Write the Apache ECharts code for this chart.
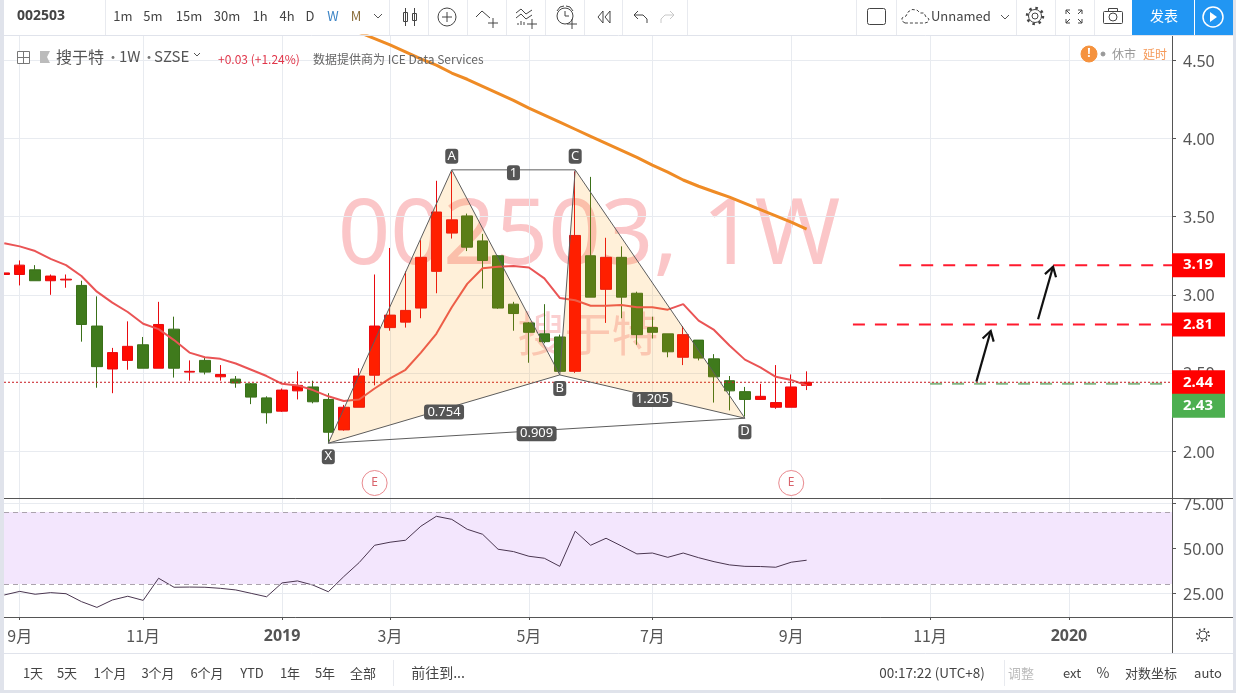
<!DOCTYPE html>
<html>
<head>
<meta charset="utf-8">
<style>
    html, body { margin: 0; padding: 0; background: #fff; }
    #main { width: 1236px; height: 693px; }
</style>
</head>
<body>
<div id="main"></div>
<script src="https://cdn.jsdelivr.net/npm/echarts@6/dist/echarts.min.js"></script>
<script>
// weekly bars, index 0 is the bar cut off by the left edge
const opens = [3.13, 3.13, 3.16, 3.09, 3.095, 3.06, 2.80, 2.525, 2.58, 2.68, 2.53, 2.78, 2.505, 2.58, 2.475, 2.46, 2.43, 2.34, 2.255, 2.385, 2.41, 2.33, 2.135, 2.28, 2.485, 2.79, 2.825, 2.915, 3.15, 3.395, 3.505, 3.345, 3.25, 2.94, 2.82, 2.75, 2.73, 2.51, 3.25, 3.035, 3.24, 3.01, 2.79, 2.75, 2.60, 2.71, 2.59, 2.45, 2.38, 2.33, 2.28, 2.28, 2.42];
const closes = [3.14, 3.19, 3.09, 3.12, 3.10, 2.81, 2.54, 2.63, 2.67, 2.53, 2.81, 2.53, 2.51, 2.505, 2.49, 2.435, 2.345, 2.245, 2.39, 2.42, 2.315, 2.12, 2.28, 2.48, 2.80, 2.87, 2.90, 3.24, 3.53, 3.48, 3.305, 3.22, 2.915, 2.88, 2.76, 2.70, 2.51, 3.38, 2.985, 3.24, 2.985, 2.745, 2.76, 2.635, 2.745, 2.595, 2.475, 2.385, 2.33, 2.35, 2.31, 2.41, 2.44];
const lows = [3.13, 3.06, 3.09, 3.00, 3.045, 2.70, 2.405, 2.37, 2.52, 2.53, 2.53, 2.47, 2.45, 2.49, 2.45, 2.405, 2.30, 2.175, 2.25, 2.33, 2.305, 2.05, 2.13, 2.28, 2.42, 2.77, 2.79, 2.85, 3.01, 3.36, 3.28, 3.04, 2.91, 2.77, 2.565, 2.69, 2.505, 2.50, 2.985, 2.82, 2.85, 2.68, 2.72, 2.60, 2.55, 2.58, 2.31, 2.26, 2.22, 2.33, 2.27, 2.28, 2.39];
const highs = [3.14, 3.22, 3.19, 3.13, 3.13, 3.09, 2.99, 2.66, 2.83, 2.73, 2.955, 2.86, 2.58, 2.60, 2.55, 2.48, 2.435, 2.35, 2.40, 2.51, 2.45, 2.37, 2.295, 2.53, 3.13, 3.30, 3.15, 3.35, 3.73, 3.79, 3.52, 3.39, 3.255, 2.955, 2.825, 2.94, 2.745, 3.79, 3.755, 3.365, 3.31, 3.02, 2.86, 2.75, 2.80, 2.71, 2.62, 2.48, 2.41, 2.43, 2.55, 2.49, 2.51];
const maValues = [3.33, 3.31, 3.28, 3.23, 3.19, 3.12, 3.02, 2.95, 2.89, 2.815, 2.78, 2.71, 2.63, 2.60, 2.59, 2.56, 2.52, 2.48, 2.43, 2.42, 2.39, 2.35, 2.32, 2.33, 2.40, 2.465, 2.52, 2.63, 2.75, 2.92, 3.07, 3.17, 3.18, 3.185, 3.175, 3.105, 2.98, 2.965, 2.93, 2.93, 2.935, 2.92, 2.92, 2.905, 2.94, 2.835, 2.775, 2.675, 2.585, 2.535, 2.475, 2.455, 2.42];
const longMaStart = 23;
const longMaValues = [4.68, 4.64, 4.60, 4.555, 4.51, 4.47, 4.42, 4.38, 4.335, 4.29, 4.245, 4.195, 4.15, 4.105, 4.06, 4.015, 3.97, 3.925, 3.88, 3.83, 3.785, 3.735, 3.695, 3.66, 3.625, 3.585, 3.545, 3.505, 3.465, 3.42];
const rsiValues = [23.9, 25.9, 24.3, 25.2, 24.6, 20.2, 17.0, 21.1, 23.2, 20.9, 33.2, 28.2, 28.3, 28.2, 27.6, 26.7, 24.8, 22.9, 30.6, 31.7, 29.4, 25.7, 34.1, 41.9, 51.5, 53.2, 54.3, 62.1, 67.6, 65.9, 60.4, 57.6, 49.3, 48, 45.4, 44.3, 39.8, 59.3, 51.5, 55.4, 51.1, 46.7, 47.2, 44.8, 47.2, 44.6, 42.4, 40.6, 39.8, 39.7, 39.3, 42.1, 43.2];
const rsiBand = [30, 70];

const timeTicks = [1, 9, 18, 25, 34, 42, 51, 60, 69];
const timeLabels = ['9月', '11月', '2019', '3月', '5月', '7月', '9月', '11月', '2020'];
const priceTicks = [2, 2.5, 3, 3.5, 4, 4.5];
const rsiTicks = [25, 50, 75];

// XABCD pattern
const patternNames = ['X', 'A', 'B', 'C', 'D'];
const patternIdx = [21, 29, 36, 37, 48];
const patternPrices = [2.05, 3.80, 2.487, 3.80, 2.21];
const patternLabelSide = [1, -1, 1, -1, 1];
const ratioLegs = [['X', 'B'], ['A', 'C'], ['X', 'D'], ['B', 'D']];
const ratioLabels = ['0.754', '1', '0.909', '1.205'];

// drawn levels: start bar, price
const levelStarts = [58, 55, 60];
const levelPrices = [3.19, 2.81, 2.43];
const arrowFrom = [[63, 2.444], [67, 2.843]];
const arrowTo = [[63.93, 2.768], [67.97, 3.18]];
const lastPrice = 2.44;
const tagPrices = [3.19, 2.81, 2.44, 2.43];
const tagColors = ['#ff0000', '#ff0000', '#ff0000', '#4caf50'];
const earningsBars = [24, 51];

const xMin = -0.02;
const xMax = 75.68;
const FONT = '"Noto Sans", "Noto Sans CJK SC", sans-serif';
const CJK = '"Noto Sans CJK SC", "Noto Sans", sans-serif';
const GREY = '#555';
const LINE = '#e8ebf0';

const intervalLabels = [['1m', 123], ['5m', 153], ['15m', 189], ['30m', 227], ['1h', 260], ['4h', 287], ['D', 310]];
const rangeLabels = [['1天', 33], ['5天', 67], ['1个月', 110], ['3个月', 158], ['6个月', 207], ['YTD', 252], ['1年', 290], ['5年', 325], ['全部', 363]];
const topSeps = [105, 389, 428, 467, 506, 545, 584, 622, 687, 856, 896, 1016, 1055, 1094];

const txt = (text, x, y, fill, size, align, extra) => ({
    type: 'text', x, y, z: 50, silent: true,
    style: Object.assign({
        text, fill: fill || '#444', textAlign: align || 'center', textVerticalAlign: 'middle',
        font: (size || 13) + 'px ' + CJK
    }, extra || {})
});
const seg = (x1, y1, x2, y2, color, w) => ({
    type: 'line', z: 50, silent: true,
    shape: { x1, y1, x2, y2 }, style: { stroke: color || '#444', lineWidth: w || 1 }
});
const pline = (points, color, w) => ({
    type: 'polyline', z: 50, silent: true,
    shape: { points }, style: { stroke: color || '#444', lineWidth: w || 1, fill: 'none' }
});
const box = (x, y, width, height, fill, stroke, r) => ({
    type: 'rect', z: 49, silent: true,
    shape: { x, y, width, height, r: r || 0 },
    style: { fill: fill || 'none', stroke: stroke || 'none' }
});
const ring = (cx, cy, r, color, w, dash, fill) => ({
    type: 'circle', z: 50, silent: true,
    shape: { cx, cy, r },
    style: { stroke: color || '#444', lineWidth: w || 1, fill: fill || 'none', lineDash: dash || null }
});
const chevron = (x, y, color) => pline([[x - 4, y - 2], [x, y + 2], [x + 4, y - 2]], color || '#555');
const plus = (x, y) => [seg(x - 5, y, x + 5, y), seg(x, y - 5, x, y + 5)];

function toolbarGraphics() {
    const g = [];
    // frame strips and toolbar rules
    g.push(box(0, 0, 4, 693, '#e0e3eb'), box(1233, 0, 3, 693, '#e0e3eb'), box(0, 690, 1236, 3, '#e0e3eb'));
    g.push(seg(4, 35.5, 1233, 35.5, '#e0e3eb'), seg(4, 653.5, 1233, 653.5, '#e0e3eb'));
    topSeps.forEach(x => g.push(seg(x + 0.5, 0, x + 0.5, 35, '#e8eaef')));
    g.push(seg(1172.5, 617, 1172.5, 653, GREY));
    g.push(seg(393.5, 660, 393.5, 686, '#e8eaef'), seg(1004.5, 660, 1004.5, 686, '#e8eaef'));

    // the pane rules run through the price scale and clip the 75.00 label
    g.push(box(1173, 485, 60, 13.5, '#fff'));
    g.push(seg(1172, 498.5, 1233, 498.5, GREY), seg(1172, 617.5, 1233, 617.5, GREY));

    g.push(txt('002503', 41, 16, '#444', 14, 'center', { font: 'bold 14px ' + FONT }));
    intervalLabels.forEach(d => g.push(txt(d[0], d[1], 16, '#444', 13)));
    g.push(txt('W', 333, 16, '#3d85c6', 13), txt('M', 356, 16, '#8a6d3b', 13), chevron(378, 16));

    // candle icon
    g.push(seg(405.5, 8, 405.5, 26), box(403.5, 12.5, 4, 9, '#fff', '#444'));
    g.push(seg(414.5, 8, 414.5, 26), box(412.5, 13.5, 4, 7, '#fff', '#444'));
    // add indicator
    g.push(ring(447, 17, 9, '#444'), ...plus(447, 17));
    g.push(pline([[476, 17], [482, 11], [490, 18]]), ...plus(493, 23));
    g.push(pline([[516, 13], [521, 9], [526, 14], [532, 10]]), pline([[516, 18], [521, 14], [526, 19], [532, 15]]));
    g.push(seg(518, 25, 518, 23), seg(521, 25, 521, 21), seg(524, 25, 524, 22), ...plus(532, 24));
    // alarm
    g.push(ring(565, 16, 8), pline([[557, 11], [560, 7], [564, 6]]), pline([[566, 6], [570, 7], [573, 11]]), pline([[565, 11], [565, 16], [569, 16]]), box(567, 19, 10, 10, '#fff'), ...plus(572, 24));
    // replay, undo, redo
    g.push(pline([[603, 11], [598, 17], [603, 23], [603, 11]]), pline([[610, 11], [605, 17], [610, 23], [610, 11]]));
    g.push(pline([[638, 11], [634, 15], [638, 19]]), pline([[634, 15], [643, 15], [647, 19], [647, 23]]));
    g.push(pline([[670, 11], [674, 15], [670, 19]], '#c8c8c8'), pline([[674, 15], [665, 15], [661, 19], [661, 23]], '#c8c8c8'));

    // right side of the toolbar
    g.push(box(867.5, 8.5, 18, 16, '#fff', '#444', 2));
    g.push({
        type: 'polyline', z: 50, silent: true,
        shape: { points: [[905, 23], [902, 21], [902, 18], [906, 16], [908, 12], [912, 9.5], [917, 10], [920, 13], [924, 13], [926, 17], [929, 19], [928, 22], [925, 23], [905, 23]] },
        style: { fill: 'none', stroke: '#444', lineDash: [3, 2] }
    });
    g.push(txt('Unnamed', 931, 16, '#444', 13, 'left'), chevron(1005, 17));
    g.push(ring(1035, 16, 3), ring(1035, 16, 6.5), ring(1035, 16, 8, '#444', 2.5, [2.5, 3.8]));
    [[1066, 10, 1, 1], [1082, 10, -1, 1], [1066, 23, 1, -1], [1082, 23, -1, -1]].forEach(c => {
        g.push(pline([[c[0], c[1] + 4 * c[3]], [c[0], c[1]], [c[0] + 4 * c[2], c[1]]]), seg(c[0], c[1], c[0] + 4 * c[2], c[1] + 4 * c[3]));
    });
    g.push(box(1103.5, 11.5, 19, 12, '#fff', '#444', 1), box(1108.5, 8.5, 9, 3, '#fff', '#444'), ring(1113, 17, 4));
    g.push(box(1132, 0, 62, 35, '#2196f3'), box(1195, 0, 38, 35, '#2196f3'));
    g.push(txt('发表', 1164, 16, '#fff', 14));
    g.push(ring(1213, 17, 10, '#fff', 1.5));
    g.push({ type: 'polygon', z: 50, silent: true, shape: { points: [[1210, 12], [1217, 17], [1210, 22]] }, style: { fill: '#fff' } });

    // legend row
    g.push(box(17.5, 51.5, 12, 12, '#fff', '#777'), seg(17.5, 57.5, 29.5, 57.5, '#777'), seg(23.5, 51.5, 23.5, 63.5, '#777'));
    g.push({ type: 'polygon', z: 50, silent: true, shape: { points: [[40, 51], [50, 51], [47, 57], [50, 63], [40, 63]] }, style: { fill: '#bbb' } });
    g.push(txt('搜于特', 56, 57, '#555', 16, 'left'), txt('·', 113, 57, '#777', 14));
    g.push(txt('1W', 119, 56, '#555', 15, 'left'), txt('·', 149, 57, '#777', 14));
    g.push(txt('SZSE', 154, 56, '#555', 15, 'left'));
    g.push(pline([[194, 53], [197, 56], [200, 53]], '#555'));
    g.push(txt('+0.03 (+1.24%)', 218, 59, '#e0364a', 12, 'left'));
    g.push(txt('数据提供商为 ICE Data Services', 313, 59, '#666', 12, 'left'));
    g.push(ring(1089, 54, 8, '#f5923e', 1, null, '#f5923e'), txt('!', 1089, 54, '#fff', 12, 'center', { font: 'bold 12px ' + FONT }));
    g.push(ring(1103, 54, 2, '#999', 1, null, '#999'), txt('休市', 1124, 54, '#999', 12));
    g.push(txt('延时', 1155, 54, '#f59a5a', 12));

    // watermark goes under the candles
    g.push({
        type: 'text', x: 589, y: 238, z: -1, silent: true,
        style: { text: '002503, 1W', fill: '#fbc6c8', textAlign: 'center', textVerticalAlign: 'middle', font: '92px ' + FONT }
    });
    g.push({
        type: 'text', x: 588, y: 333, z: -1, silent: true,
        style: { text: '搜于特', fill: '#fbcfd0', textAlign: 'center', textVerticalAlign: 'middle', font: '47px ' + CJK }
    });

    // settings cog in the corner
    g.push(ring(1203, 635, 4, '#444'), ring(1203, 635, 6, '#444', 2, [1.5, 3.2]));

    rangeLabels.forEach(d => g.push(txt(d[0], d[1], 673, '#444', 13)));
    g.push(txt('前往到...', 438, 673, '#444', 14));
    g.push(txt('00:17:22 (UTC+8)', 932, 673, '#444', 13.5));
    g.push(txt('调整', 1021, 673, '#bbb', 13), txt('ext', 1072, 673, '#444', 13), txt('%', 1103, 673, '#444', 14));
    g.push(txt('对数坐标', 1151, 673, '#444', 13), txt('auto', 1208, 673, '#444', 13));
    return g;
}

const candleData = opens.map((o, i) => [i, o, closes[i], lows[i], highs[i]]);
const maData = maValues.map((v, i) => [i, v]);
const longMaData = longMaValues.map((v, i) => [i + longMaStart, v]);
const rsiData = rsiValues.map((v, i) => [i, v]);

function pt(name, api) {
    const i = patternNames.indexOf(name);
    return api.coord([patternIdx[i], patternPrices[i]]);
}

function chip(text, cx, cy, w) {
    return {
        type: 'group',
        children: [
            { type: 'rect', shape: { x: cx - w / 2, y: cy - 7.5, width: w, height: 15, r: 3 }, style: { fill: '#555' } },
            { type: 'text', style: { text, x: cx, y: cy, fill: '#fff', align: 'center', verticalAlign: 'middle', font: '13px ' + FONT } }
        ]
    };
}

function renderPattern(params, api) {
    const [x, a, b, c, d] = patternNames.map(n => pt(n, api));
    const children = [];
    const lineStyle = { stroke: '#5d5d5d', lineWidth: 1, fill: 'none' };
    [[x, a, b], [b, c, d]].forEach(tri => {
        children.push({ type: 'polygon', shape: { points: tri }, style: { fill: 'rgba(255,152,0,0.15)' } });
        children.push({ type: 'polygon', shape: { points: tri }, style: lineStyle });
    });
    children.push({ type: 'polyline', shape: { points: [a, c] }, style: lineStyle });
    children.push({ type: 'polyline', shape: { points: [x, d] }, style: lineStyle });
    ratioLegs.forEach((leg, i) => {
        const p = pt(leg[0], api);
        const q = pt(leg[1], api);
        children.push(chip(ratioLabels[i], (p[0] + q[0]) / 2, (p[1] + q[1]) / 2 + 3, ratioLabels[i].length > 1 ? 40 : 13));
    });
    patternNames.forEach((n, i) => {
        const p = pt(n, api);
        children.push(chip(n, p[0], p[1] + patternLabelSide[i] * 13.5, 13));
    });
    return { type: 'group', children };
}

function renderArrows(params, api) {
    const children = [];
    arrowFrom.forEach((from, i) => {
        const p = api.coord(from);
        const q = api.coord(arrowTo[i]);
        const ang = Math.atan2(q[1] - p[1], q[0] - p[0]);
        const head = s => [q[0] - 11 * Math.cos(ang + s * 0.55), q[1] - 11 * Math.sin(ang + s * 0.55)];
        const style = { stroke: '#111', lineWidth: 2.2, fill: 'none' };
        children.push({ type: 'polyline', shape: { points: [p, q] }, style });
        children.push({ type: 'polyline', shape: { points: [head(1), q, head(-1)] }, style });
    });
    return { type: 'group', children };
}

function renderEarnings(params, api) {
    const children = earningsBars.map(i => {
        const p = api.coord([i, 1.795]);
        return {
            type: 'group',
            children: [
                { type: 'circle', shape: { cx: p[0], cy: p[1], r: 12.5 }, style: { fill: '#fff', stroke: '#e98a8f', lineWidth: 1 } },
                { type: 'text', style: { text: 'E', x: p[0], y: p[1], fill: '#d9636b', align: 'center', verticalAlign: 'middle', font: '12px ' + FONT } }
            ]
        };
    });
    return { type: 'group', children };
}

function renderTags(params, api) {
    // the last tag is pushed down so it does not cover the one above it
    const shift = [0, 0, 0, 22];
    const children = tagPrices.map((v, i) => {
        const y = api.coord([xMax, v])[1] + shift[i];
        return {
            type: 'group',
            children: [
                { type: 'rect', shape: { x: 1172, y: y - 12, width: 53, height: 24 }, style: { fill: tagColors[i] } },
                { type: 'text', style: { text: v.toFixed(2), x: 1198, y, fill: '#fff', align: 'center', verticalAlign: 'middle', font: 'bold 15px ' + FONT } }
            ]
        };
    });
    return { type: 'group', children };
}

const levelSeries = levelStarts.map((s, i) => ({
    type: 'line',
    data: [[s, levelPrices[i]], [xMax, levelPrices[i]]],
    symbol: 'none',
    z: 4,
    lineStyle: { color: i < 2 ? '#ff1a2e' : '#82b784', width: 2, type: [12, 10] }
}));

const customOne = (renderItem, z) => ({
    type: 'custom', data: [[0, 3]], renderItem, z, clip: false, silent: true,
    encode: { x: 0, y: 1 }
});

// price scale labels sit a touch under their tick
const scaleLabel = {
    margin: 11,
    formatter: v => '{a|' + v.toFixed(2) + '}',
    rich: { a: { color: GREY, fontSize: 16, fontFamily: FONT, padding: [4, 0, 0, 0] } }
};

const option = {
    animation: false,
    backgroundColor: '#fff',
    graphic: toolbarGraphics(),
    grid: [
        { left: 4, top: 36, width: 1168, height: 462 },
        { left: 4, top: 499, width: 1168, height: 118 }
    ],
    xAxis: [
        {
            type: 'value', gridIndex: 0, min: xMin, max: xMax, scale: true,
            axisLine: { show: true, onZero: false, lineStyle: { color: GREY } },
            axisTick: { show: false, customValues: timeTicks },
            axisLabel: { show: false, customValues: timeTicks },
            splitLine: { show: true, lineStyle: { color: LINE } }
        },
        {
            type: 'value', gridIndex: 1, min: xMin, max: xMax, scale: true,
            axisLine: { show: true, onZero: false, lineStyle: { color: GREY } },
            axisTick: { show: true, length: 3, customValues: timeTicks, lineStyle: { color: GREY } },
            axisLabel: {
                show: true, customValues: timeTicks, margin: 11, hideOverlap: false,
                showMinLabel: true, showMaxLabel: true,
                formatter: v => {
                    const s = timeLabels[timeTicks.indexOf(Math.round(v))];
                    return s.length === 4 ? '{b|' + s + '}' : '{n|' + s + '}';
                },
                rich: {
                    n: { color: GREY, fontSize: 16, fontFamily: CJK },
                    b: { color: GREY, fontSize: 16, fontWeight: 'bold', fontFamily: FONT }
                }
            },
            splitLine: { show: true, lineStyle: { color: LINE } }
        }
    ],
    yAxis: [
        {
            type: 'value', gridIndex: 0, position: 'right', min: 1.699, max: 4.657, scale: true,
            axisLine: { show: true, onZero: false, lineStyle: { color: GREY } },
            axisTick: { show: true, length: 4, customValues: priceTicks, lineStyle: { color: GREY } },
            axisLabel: Object.assign({ customValues: priceTicks }, scaleLabel),
            splitLine: { show: true, lineStyle: { color: LINE } }
        },
        {
            type: 'value', gridIndex: 1, position: 'right', min: 11.67, max: 77.2, scale: true,
            axisLine: { show: true, onZero: false, lineStyle: { color: GREY } },
            axisTick: { show: true, length: 4, customValues: rsiTicks, lineStyle: { color: GREY } },
            axisLabel: Object.assign({ customValues: rsiTicks }, scaleLabel),
            splitLine: { show: true, lineStyle: { color: LINE } }
        }
    ],
    series: [
        {
            type: 'candlestick',
            data: candleData,
            encode: { x: 0, y: [1, 2, 3, 4] },
            barWidth: 11,
            z: 3,
            itemStyle: { color: '#ff0a00', color0: '#3f7a1c', borderColor: '#e80a10', borderColor0: '#3a7019', borderWidth: 1 }
        },
        { type: 'line', data: maData, symbol: 'none', z: 4, lineStyle: { color: '#ea5455', width: 2 } },
        { type: 'line', data: longMaData, symbol: 'none', z: 4, lineStyle: { color: '#ef8b25', width: 3 } },
        ...levelSeries,
        {
            type: 'line', data: [[xMin, lastPrice], [xMax, lastPrice]], symbol: 'none', z: 4,
            lineStyle: { color: '#c8181e', width: 1, type: [2, 2] }
        },
        customOne(renderPattern, 5),
        customOne(renderArrows, 6),
        customOne(renderEarnings, 6),
        customOne(renderTags, 20),
        {
            type: 'line', xAxisIndex: 1, yAxisIndex: 1, data: rsiData, symbol: 'none', z: 4,
            lineStyle: { color: '#4a3650', width: 1 },
            markArea: {
                silent: true,
                itemStyle: { color: '#f3e6fd' },
                data: [[{ yAxis: rsiBand[0] }, { yAxis: rsiBand[1] }]]
            },
            markLine: {
                silent: true, symbol: 'none', label: { show: false },
                lineStyle: { color: '#aba3ad', type: [5, 4], width: 1 },
                data: rsiBand.map(v => ({ yAxis: v }))
            }
        }
    ]
};

const chart = echarts.init(document.getElementById('main'), null, { renderer: 'canvas' });
chart.setOption(option);
</script>
</body>
</html>
